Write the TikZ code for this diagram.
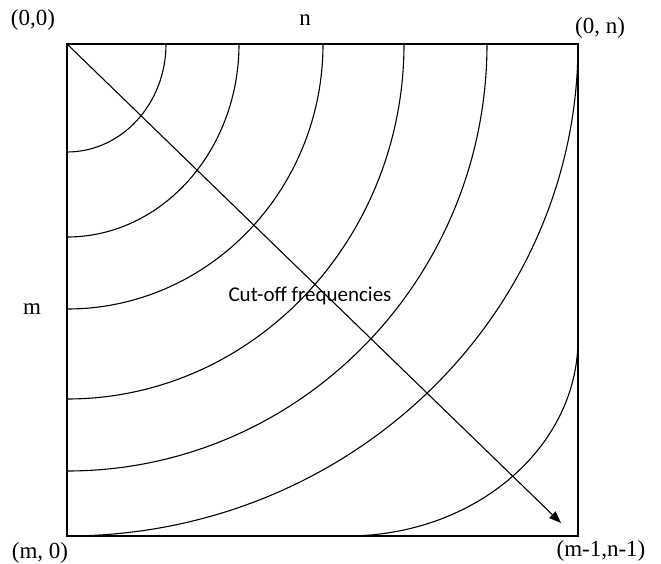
\documentclass[tikz,border=0pt]{standalone}
\usepackage{fontspec}
\setmainfont{Liberation Serif}
\newfontfamily\cutfont{Carlito}
\usepackage{tikz}
\usetikzlibrary{arrows.meta,positioning,calc}
\tikzset{
  frame/.style={draw=black, line width=1.3pt},
  curve/.style={draw=black, line width=1.1pt},
  flow/.style={-{Triangle[length=12pt,width=9pt]}, line width=1.1pt},
  corner/.style={font=\fontsize{23}{25}\selectfont, inner sep=0pt},
  cutlabel/.style={font=\cutfont\fontsize{21}{23}\selectfont, inner sep=0pt}
}

\begin{document}
\begin{tikzpicture}[x=1pt,y=-1pt]
\useasboundingbox (0,0) rectangle (661,564);
\coordinate (tl) at (67,44);
\coordinate (br) at (578,536);
\coordinate (tip) at (561,523);

% the block
\draw[frame] (tl) rectangle (br);

% cut-off curves around the (0,0) corner
\foreach \rx/\ry in {99/108,172/193,256/265,337/355,420/427,511/492}
  \draw[curve] (67+\rx,44) arc[start angle=0, end angle=90, x radius=\rx, y radius=\ry];
\draw[curve] (578,339) arc[start angle=0, end angle=90, x radius=231, y radius=197];

\draw[flow] (tl) -- (tip);

\node[corner] (origin) at (33,20) {(0,0)};
\node[corner] (ncol) at (305,20) {n};
\node[corner] (topright) at (600,28) {(0, n)};
\node[corner] (mrow) at (32,309) {m};
\node[corner] (botleft) at (40,553) {(m, 0)};
\node[corner] (botright) at (601,551) {(m-1,n-1)};
\node[cutlabel] (cutoff) at (310,296) {Cut-off frequencies};
\end{tikzpicture}
\end{document}
